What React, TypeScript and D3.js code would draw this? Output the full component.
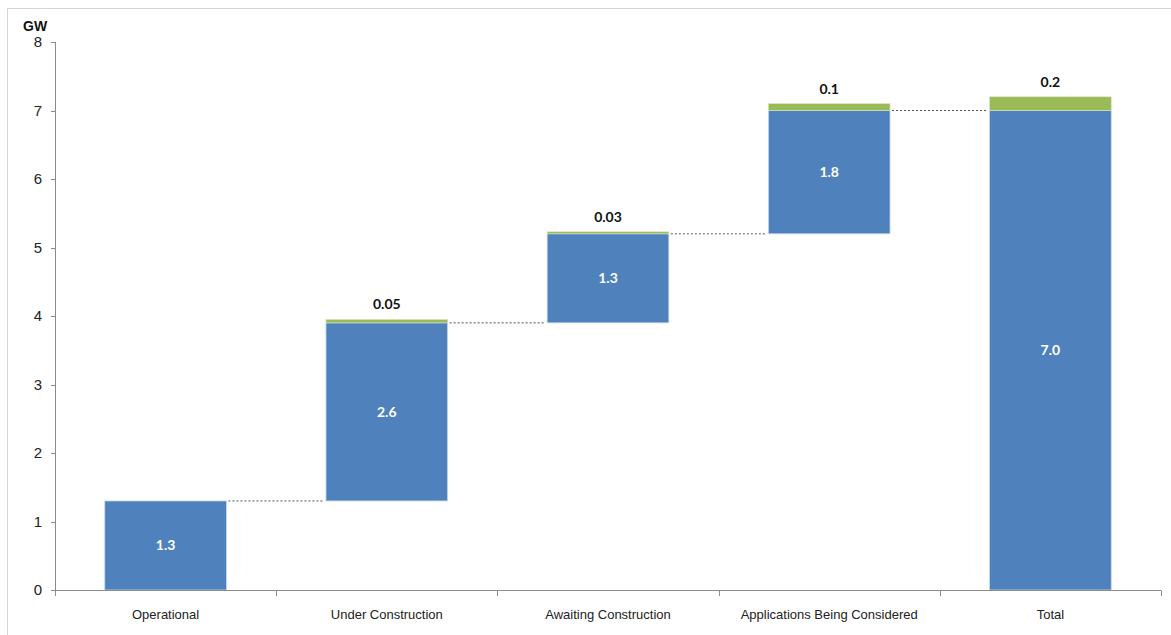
import React from "react";
import * as d3 from "d3";

// Pipeline capacity by stage (GW)
const categories = [
  "Operational",
  "Under Construction",
  "Awaiting Construction",
  "Applications Being Considered",
  "Total",
];
const mainValues = [1.3, 2.6, 1.3, 1.8, 7.0];
const extraValues = [0, 0.05, 0.03, 0.1, 0.2];
const extraLabels = ["", "0.05", "0.03", "0.1", "0.2"];
const yTicks = [0, 1, 2, 3, 4, 5, 6, 7, 8];

const W = 1171;
const H = 635;
const margin = { left: 55, right: 10, top: 42, bottom: 45 };
const BLUE = "#4F81BD";
const GREEN = "#9BBB59";
const AXIS = "#8c8c8c";

export default function App() {
  const x = d3
    .scaleBand<string>()
    .domain(categories)
    .range([margin.left, 1161])
    .paddingInner(0.45)
    .paddingOuter(0.225);
  const y = d3.scaleLinear().domain([0, 8]).range([590, 42]);

  // running base: each stage sits on top of the previous stages' main value;
  // the final "Total" column starts from zero
  const bases: number[] = [];
  let run = 0;
  categories.forEach((c, i) => {
    if (i === categories.length - 1) {
      bases.push(0);
    } else {
      bases.push(run);
      run += mainValues[i];
    }
  });

  const bw = x.bandwidth();
  const step = x.step();
  const boundaries = d3.range(categories.length + 1).map((i) => margin.left + i * step);

  const labelFont = "Lato, 'Open Sans', sans-serif";
  const axisFont = "'Liberation Sans', Arial, sans-serif";

  return (
    <svg
      width={W}
      height={H}
      style={{ position: "absolute", left: 0, top: 0, background: "#fff" }}
    >
      <rect x={7.5} y={8.5} width={W + 20} height={H + 20} fill="#fff" stroke="#d4d4d4" />

      {/* connectors between consecutive stages */}
      {categories.slice(0, -1).map((c, i) => {
        const level = bases[i] + mainValues[i];
        const x1 = (x(c) as number) + bw;
        const x2 = x(categories[i + 1]) as number;
        return (
          <line
            key={"conn" + i}
            x1={x1 + 2}
            x2={x2 - 2}
            y1={y(level)}
            y2={y(level)}
            stroke="#555"
            strokeWidth={1}
            strokeDasharray="2,2"
          />
        );
      })}

      {categories.map((c, i) => {
        const bx = x(c) as number;
        const b = bases[i];
        const top = b + mainValues[i];
        const gTop = top + extraValues[i];
        const midY = (y(b) + y(top)) / 2;
        return (
          <g key={c}>
            <rect
              x={bx}
              y={y(top)}
              width={bw}
              height={y(b) - y(top)}
              fill={BLUE}
              stroke="#c9d8ec"
              strokeWidth={0.8}
            />
            {extraValues[i] > 0 && (
              <rect
                x={bx}
                y={y(gTop)}
                width={bw}
                height={Math.max(y(top) - y(gTop), 2)}
                fill={GREEN}
                stroke="#d6e4bf"
                strokeWidth={0.6}
              />
            )}
            <text
              x={bx + bw / 2}
              y={midY}
              dy="0.35em"
              textAnchor="middle"
              fill="#fff"
              fontFamily={labelFont}
              fontWeight="bold"
              fontSize={14}
            >
              {d3.format(".1f")(mainValues[i])}
            </text>
            {extraLabels[i] && (
              <text
                x={bx + bw / 2}
                y={y(gTop) - 10}
                textAnchor="middle"
                fill="#111"
                fontFamily={labelFont}
                fontWeight="bold"
                fontSize={14}
              >
                {extraLabels[i]}
              </text>
            )}
          </g>
        );
      })}

      {/* y axis */}
      <line x1={55.5} x2={55.5} y1={y(8)} y2={y(0)} stroke={AXIS} />
      {yTicks.map((t) => (
        <g key={"yt" + t}>
          <line x1={51} x2={55.5} y1={Math.round(y(t)) + 0.5} y2={Math.round(y(t)) + 0.5} stroke={AXIS} />
          <text
            x={42}
            y={y(t)}
            dy="0.35em"
            textAnchor="end"
            fontFamily={axisFont}
            fontSize={15}
            fill="#222"
          >
            {t}
          </text>
        </g>
      ))}
      <text x={23} y={31} fontFamily={axisFont} fontWeight="bold" fontSize={14} fill="#111">
        GW
      </text>

      {/* x axis */}
      <line x1={55} x2={1161} y1={590.5} y2={590.5} stroke={AXIS} />
      {boundaries.map((bx, i) => (
        <line key={"xt" + i} x1={Math.round(bx) + 0.5} x2={Math.round(bx) + 0.5} y1={590.5} y2={596} stroke={AXIS} />
      ))}
      {categories.map((c) => (
        <text
          key={"xl" + c}
          x={(x(c) as number) + bw / 2}
          y={619}
          textAnchor="middle"
          fontFamily={axisFont}
          fontSize={13}
          fill="#222"
        >
          {c}
        </text>
      ))}
    </svg>
  );
}
